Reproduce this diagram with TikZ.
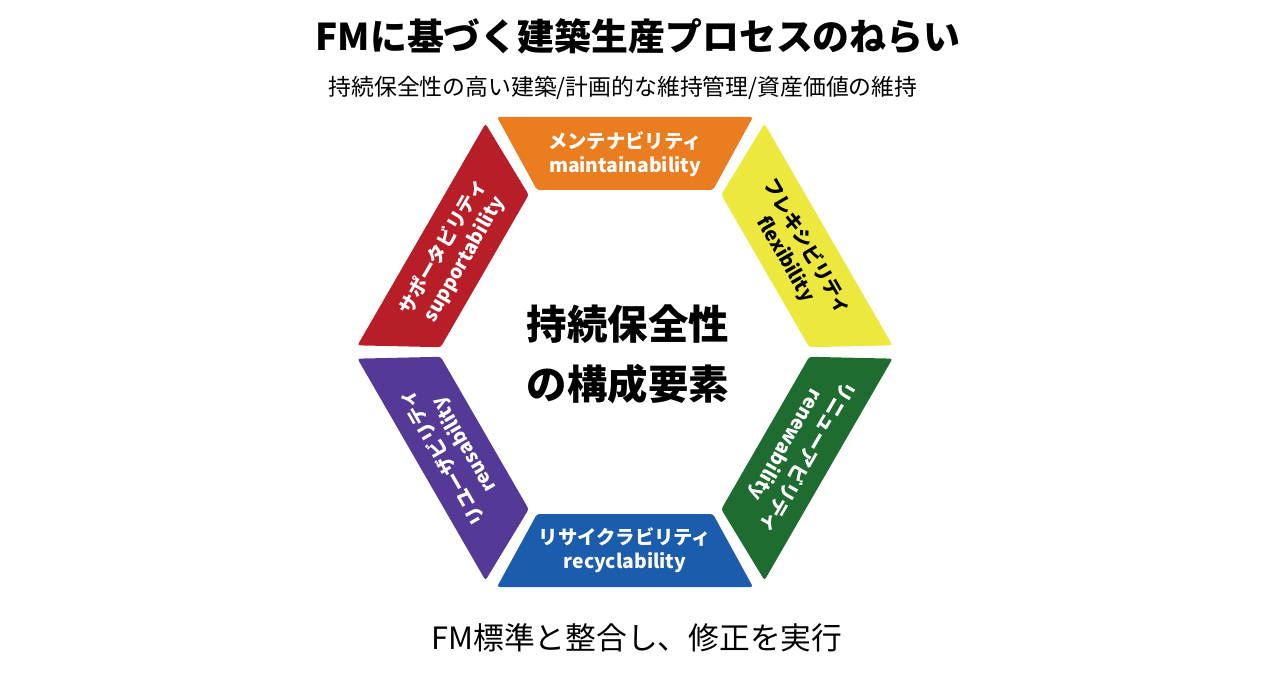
\documentclass[tikz,border=0pt]{standalone}
\usepackage{fontspec}
\setmainfont{Noto Sans CJK JP}
\usepackage{tikz}
\usetikzlibrary{positioning,calc}
\definecolor{segorange}{RGB}{234,125,32}
\definecolor{segyellow}{RGB}{236,232,62}
\definecolor{seggreen}{RGB}{30,108,48}
\definecolor{segblue}{RGB}{28,92,172}
\definecolor{segpurple}{RGB}{84,58,150}
\definecolor{segred}{RGB}{184,30,40}
\tikzset{
  seg/.style={rounded corners=1.5pt},
  segtext/.style={align=center,font=\fontsize{11}{14}\selectfont\bfseries,text=white,inner sep=0pt},
}
\begin{document}
\begin{tikzpicture}[x=0.02cm,y=0.02cm]
  \useasboundingbox (0,0) rectangle (1276,674);
  % title
  \node[font=\fontsize{21}{24}\selectfont\bfseries] (title) at (638,638) {FMに基づく建築生産プロセスのねらい};
  \node[font=\fontsize{13}{15}\selectfont] (sub) at (623,586) {持続保全性の高い建築/計画的な維持管理/資産価値の維持};
  % segments
  \foreach \ang/\col in {90/segorange,30/segyellow,-30/seggreen,-90/segblue,-150/segpurple,150/segred}{
    \begin{scope}[shift={(625,322)},rotate=\ang-90]
      \fill[\col,seg] (-128,235) -- (128,235) -- (88,162) -- (-88,162) -- cycle;
    \end{scope}
  }
  % labels
  \node[segtext] (maint) at ($(625,322)+(90:198)$) {メンテナビリティ\\maintainability};
  \node[segtext,text=black,rotate=-60] (flex) at ($(625,322)+(30:198)$) {フレキシビリティ\\flexibility};
  \node[segtext,rotate=-120] (renew) at ($(625,322)+(-30:198)$) {リニューアビリティ\\renewability};
  \node[segtext] (recyc) at ($(625,322)+(-90:198)$) {リサイクラビリティ\\recyclability};
  \node[segtext,rotate=120] (reuse) at ($(625,322)+(-150:198)$) {リユーザビリティ\\reusability};
  \node[segtext,rotate=60] (supp) at ($(625,322)+(150:198)$) {サポータビリティ\\supportability};
  % center
  \node[align=center,font=\fontsize{23}{34}\selectfont\bfseries] (core) at (628,320) {持続保全性\\の構成要素};
  \node[font=\fontsize{17.5}{20}\selectfont] (note) at (637,36) {FM標準と整合し、修正を実行};
\end{tikzpicture}
\end{document}
